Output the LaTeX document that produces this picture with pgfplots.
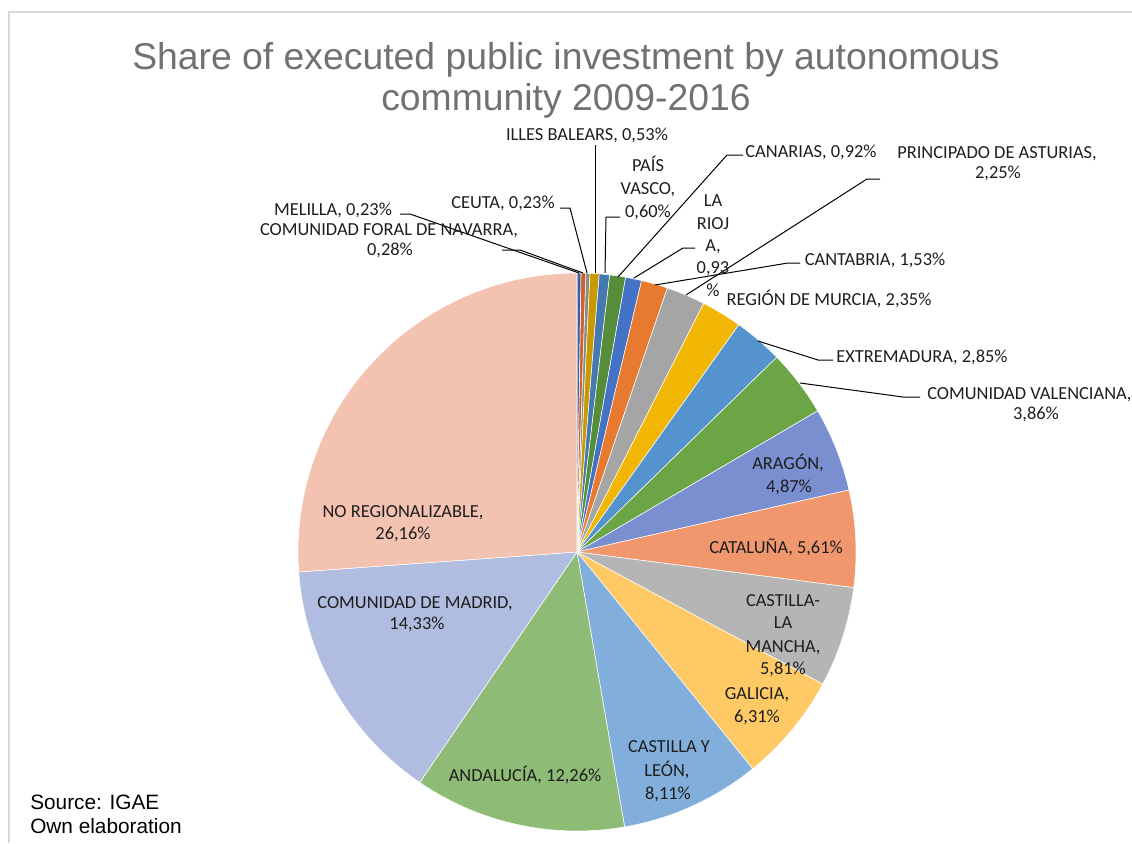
\documentclass[border=0pt]{standalone}
\usepackage{pgfplots}
\pgfplotsset{compat=1.18}
\usepackage{fontspec}
\setmainfont{Carlito}
\newfontfamily\arial{Liberation Sans}

\definecolor{cMel}{HTML}{3A5CAA}
\definecolor{cNav}{HTML}{C9652A}
\definecolor{cCeu}{HTML}{8A8A8A}
\definecolor{cBal}{HTML}{C99A00}
\definecolor{cPV}{HTML}{4679B0}
\definecolor{cCan}{HTML}{568D3A}
\definecolor{cRio}{HTML}{4472C4}
\definecolor{cCnt}{HTML}{E87A30}
\definecolor{cAst}{HTML}{A5A5A5}
\definecolor{cMur}{HTML}{F2B705}
\definecolor{cExt}{HTML}{5593CF}
\definecolor{cVal}{HTML}{6BA545}
\definecolor{cAra}{HTML}{7A8FD0}
\definecolor{cCat}{HTML}{F0976E}
\definecolor{cCLM}{HTML}{B5B5B5}
\definecolor{cGal}{HTML}{FFC966}
\definecolor{cCyL}{HTML}{82AEDC}
\definecolor{cAnd}{HTML}{8EBB75}
\definecolor{cMad}{HTML}{B1BDE0}
\definecolor{cNoR}{HTML}{F4C2B1}
\definecolor{titc}{HTML}{757070}
\definecolor{lblc}{HTML}{1E1E1E}
\definecolor{framec}{HTML}{D9D9D9}

% pie slice: colour, cumulative share at start (%), cumulative share at end (%)
\newcommand{\slice}[3]{%
  \addplot[fill=#1, draw=white, line width=0.4pt, domain=-90+3.6*#2:-90+3.6*#3, samples=60, variable=\t]
    ({577+279*cos(\t)},{552+279*sin(\t)}) -- (axis cs:577,552) -- cycle;}
% label line: x, baseline y, text
\newcommand{\lab}[3]{\node[anchor=base, inner sep=0pt, text=lblc, font=\fontsize{13.8}{16}\selectfont] at (axis cs:#1,#2) {#3};}

\begin{document}
\begin{tikzpicture}
\begin{axis}[width=849pt, height=632.25pt, scale only axis,
  xmin=0, xmax=1132, ymin=0, ymax=843, y dir=reverse,
  hide axis, clip=false]

% frame
\draw[framec, line width=1pt] (axis cs:9,843) -- (axis cs:9,12) -- (axis cs:1132,12);

% slices (shares in %, clockwise from 12 o'clock)
\slice{cMel}{0}{0.23}      % Melilla 0,23
\slice{cNav}{0.23}{0.51}   % Navarra 0,28
\slice{cCeu}{0.51}{0.74}   % Ceuta 0,23
\slice{cBal}{0.74}{1.27}   % Illes Balears 0,53
\slice{cPV}{1.27}{1.87}    % Pais Vasco 0,60
\slice{cCan}{1.87}{2.79}   % Canarias 0,92
\slice{cRio}{2.79}{3.72}   % La Rioja 0,93
\slice{cCnt}{3.72}{5.25}   % Cantabria 1,53
\slice{cAst}{5.25}{7.50}   % Asturias 2,25
\slice{cMur}{7.50}{9.85}   % Murcia 2,35
\slice{cExt}{9.85}{12.70}  % Extremadura 2,85
\slice{cVal}{12.70}{16.56} % C. Valenciana 3,86
\slice{cAra}{16.56}{21.43} % Aragon 4,87
\slice{cCat}{21.43}{27.04} % Cataluna 5,61
\slice{cCLM}{27.04}{32.85} % Castilla-La Mancha 5,81
\slice{cGal}{32.85}{39.16} % Galicia 6,31
\slice{cCyL}{39.16}{47.27} % Castilla y Leon 8,11
\slice{cAnd}{47.27}{59.53} % Andalucia 12,26
\slice{cMad}{59.53}{73.86} % Madrid 14,33
\slice{cNoR}{73.86}{100}   % No regionalizable 26,16

% leader lines
\draw[black, line width=0.75pt] (axis cs:400,214) -- (axis cs:410,214) -- (axis cs:579,273);
\draw[black, line width=0.75pt] (axis cs:502,250) -- (axis cs:520,250) -- (axis cs:583,273);
\draw[black, line width=0.75pt] (axis cs:560,208) -- (axis cs:570,208) -- (axis cs:587,273);
\draw[black, line width=0.75pt] (axis cs:595,145) -- (axis cs:595,273);
\draw[black, line width=0.75pt] (axis cs:620,217) -- (axis cs:606,217) -- (axis cs:605,273);
\draw[black, line width=0.75pt] (axis cs:743,155) -- (axis cs:727,155) -- (axis cs:618,277);
\draw[black, line width=0.75pt] (axis cs:695,248) -- (axis cs:683,248) -- (axis cs:634,278);
\draw[black, line width=0.75pt] (axis cs:800,263) -- (axis cs:788,263) -- (axis cs:655,285);
\draw[black, line width=0.75pt] (axis cs:880,179) -- (axis cs:867,179) -- (axis cs:686,295);
\draw[black, line width=0.75pt] (axis cs:833,360) -- (axis cs:818,360) -- (axis cs:758,341);
\draw[black, line width=0.75pt] (axis cs:920,397) -- (axis cs:903,397) -- (axis cs:800,383);

% title
\node[anchor=base, inner sep=0pt, text=titc, font=\arial\fontsize{28}{30}\selectfont] at (axis cs:566,69) {Share of executed public investment by autonomous};
\node[anchor=base, inner sep=0pt, text=titc, font=\arial\fontsize{28}{30}\selectfont] at (axis cs:566,110) {community 2009-2016};

% source
\node[anchor=base west, inner sep=0pt, text=black, font=\arial\fontsize{15.6}{18}\selectfont] at (axis cs:30,809) {Source: IGAE};
\node[anchor=base west, inner sep=0pt, text=black, font=\arial\fontsize{15.6}{18}\selectfont] at (axis cs:30,833) {Own elaboration};

% outside labels
\lab{587}{140}{ILLES BALEARS, 0,53\%}
\lab{648}{171}{PAÍS}
\lab{648}{194}{VASCO,}
\lab{648}{217}{0,60\%}
\lab{811}{157}{CANARIAS, 0,92\%}
\lab{713}{206}{LA}
\lab{713}{229}{RIOJ}
\lab{713}{251}{A,}
\lab{713}{273}{0,93}
\lab{713}{296}{\%}
\lab{875}{265}{CANTABRIA, 1,53\%}
\lab{997}{158}{PRINCIPADO DE ASTURIAS,}
\lab{998}{178}{2,25\%}
\lab{829}{305}{REGIÓN DE MURCIA, 2,35\%}
\lab{922}{362}{EXTREMADURA, 2,85\%}
\node[anchor=base west, inner sep=0pt, text=lblc, font=\fontsize{13.8}{16}\selectfont] at (axis cs:927,399) {COMUNIDAD VALENCIANA,};
\lab{1036}{419}{3,86\%}
\lab{333}{215}{MELILLA, 0,23\%}
\lab{389}{235}{COMUNIDAD FORAL DE NAVARRA,}
\lab{390}{255}{0,28\%}
\lab{503}{208}{CEUTA, 0,23\%}

% inside labels
\lab{403}{517}{NO REGIONALIZABLE,}
\lab{403}{539}{26,16\%}
\lab{415}{608}{COMUNIDAD DE MADRID,}
\lab{417}{629}{14,33\%}
\lab{525}{781}{ANDALUCÍA, 12,26\%}
\lab{669}{752}{CASTILLA Y}
\lab{667}{776}{LEÓN,}
\lab{668}{799}{8,11\%}
\lab{757}{699}{GALICIA,}
\lab{757}{722}{6,31\%}
\lab{783}{606}{CASTILLA-}
\lab{783}{628}{LA}
\lab{783}{652}{MANCHA,}
\lab{783}{674}{5,81\%}
\lab{776}{553}{CATALUÑA, 5,61\%}
\lab{788}{469}{ARAGÓN,}
\lab{789}{492}{4,87\%}
\end{axis}
\pgfresetboundingbox
\path (0,0) rectangle (849pt,632.25pt);
\end{tikzpicture}
\end{document}
